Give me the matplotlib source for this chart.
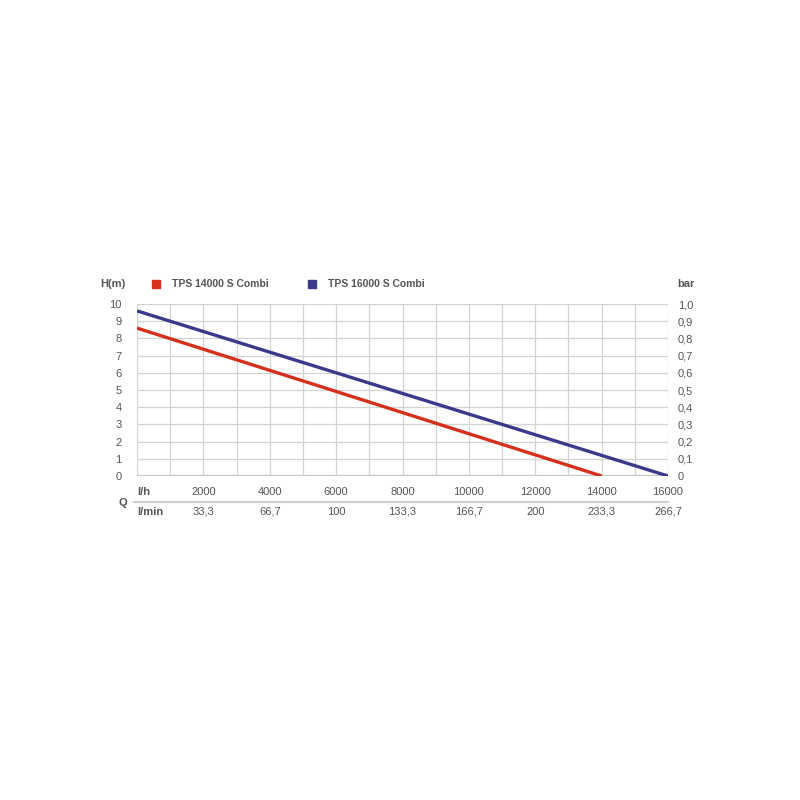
import matplotlib
matplotlib.use("Agg")
import matplotlib.pyplot as plt
import matplotlib.transforms as mtransforms
from matplotlib.patches import Rectangle

plt.rcParams['font.family'] = ['Liberation Sans', 'DejaVu Sans']

# data
series_names = ["TPS 14000 S Combi", "TPS 16000 S Combi"]
red_q = [0, 14000]
red_h = [8.6, 0.0]
blue_q = [0, 16000]
blue_h = [9.6, 0.0]
lh_ticks = [2000, 4000, 6000, 8000, 10000, 12000, 14000, 16000]
lmin_labels = ["33,3", "66,7", "100", "133,3", "166,7", "200", "233,3", "266,7"]
h_ticks = list(range(0, 11))
bar_labels = ["0", "0,1", "0,2", "0,3", "0,4", "0,5", "0,6", "0,7", "0,8", "0,9", "1,0"]

txt = "#555555"
red = "#d6301c"
blue = "#3a3a8c"
grid = "#d4d4d4"

fig = plt.figure(figsize=(8, 8), dpi=100)
ax = fig.add_axes([137/800, 1-476/800, (668-137)/800, (476-304)/800])
ax.set_xlim(0, 16000)
ax.set_ylim(0, 10)

for x in range(0, 16001, 1000):
    ax.axvline(x, color=grid, lw=0.9, zorder=1)
for y in h_ticks:
    ax.axhline(y, color=grid, lw=0.9, zorder=1)
ax.axhline(0, color="#c8c8c8", lw=1.6, zorder=1)

ax.plot(red_q, red_h, color=red, lw=2.4, solid_capstyle='butt', zorder=3)
ax.plot(blue_q, blue_h, color=blue, lw=2.4, solid_capstyle='butt', zorder=3)

for s in ax.spines.values():
    s.set_visible(False)
ax.set_xticks([])
ax.set_yticks(h_ticks)
ax.set_yticklabels([str(v) for v in h_ticks])
ax.tick_params(axis='y', length=0, pad=11, labelsize=8, labelcolor=txt)

ax2 = ax.twinx()
ax2.set_ylim(0, 10)
ax2.set_yticks(h_ticks)
ax2.set_yticklabels(bar_labels)
ax2.tick_params(axis='y', length=0, pad=7, labelsize=8, labelcolor=txt)
for s in ax2.spines.values():
    s.set_visible(False)

trans = mtransforms.blended_transform_factory(ax.transData, fig.transFigure)
for q, lm in zip(lh_ticks, lmin_labels):
    ax.text(q, 1-492/800, f"{q}", transform=trans, ha='center', va='center',
            fontsize=8, color=txt, clip_on=False)
    ax.text(q, 1-512/800, lm, transform=trans, ha='center', va='center',
            fontsize=8, color=txt, clip_on=False)

fig.text(137/800, 1-492/800, "l/h", ha='left', va='center', fontsize=8,
         color=txt, fontweight='bold')
fig.text(137/800, 1-512/800, "l/min", ha='left', va='center', fontsize=8,
         color=txt, fontweight='bold')
fig.text(123/800, 1-503/800, "Q", ha='center', va='center', fontsize=8,
         color=txt, fontweight='bold')
fig.add_artist(plt.Line2D([134/800, 668/800], [1-502/800, 1-502/800],
                          transform=fig.transFigure, color="#d0d0d0", lw=1.6))

# legend header
fig.text(100/800, 1-284/800, "H(m)", ha='left', va='center', fontsize=8,
         color=txt, fontweight='bold')
fig.text(677/800, 1-284/800, "bar", ha='left', va='center', fontsize=8,
         color=txt, fontweight='bold')
for x0, col, name in [(152, red, series_names[0]), (308, blue, series_names[1])]:
    fig.add_artist(Rectangle((x0/800, 1-288/800), 8/800, 8/800,
                             transform=fig.transFigure, color=col))
    fig.text((x0+20)/800, 1-284/800, name, ha='left', va='center', fontsize=7.5,
             color=txt, fontweight='bold')

fig.savefig("out.png", dpi=100)
